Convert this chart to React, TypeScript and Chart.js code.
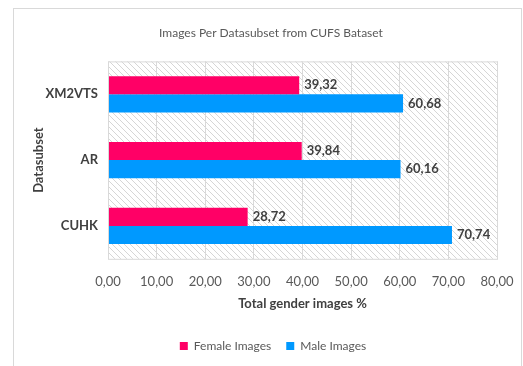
import React, { useEffect, useRef } from "react";
import { Chart, registerables } from "chart.js";

Chart.register(...registerables);

const categories = ["XM2VTS", "AR", "CUHK"];
const femaleValues = [39.32, 39.84, 28.72];
const maleValues = [60.68, 60.16, 70.74];
const xTickValues = [0, 10, 20, 30, 40, 50, 60, 70, 80];

const FONT = "Lato, 'Open Sans', sans-serif";
const fmt = (v: number) => v.toFixed(2).replace(".", ",");

function makeHatch(): CanvasPattern | string {
  const c = document.createElement("canvas");
  c.width = 6;
  c.height = 6;
  const g = c.getContext("2d");
  if (!g) return "#fff";
  g.fillStyle = "#ffffff";
  g.fillRect(0, 0, 6, 6);
  g.strokeStyle = "#d6d6d6";
  g.lineWidth = 1;
  g.beginPath();
  g.moveTo(-1, -1);
  g.lineTo(7, 7);
  g.moveTo(-4, 2);
  g.lineTo(4, 10);
  g.moveTo(2, -4);
  g.lineTo(10, 4);
  g.stroke();
  const p = g.createPattern(c, "repeat");
  return p || "#fff";
}

const framePlugin = {
  id: "frame",
  afterLayout(chart: any) {
    if (chart.titleBlock) {
      chart.titleBlock.left += 16;
      chart.titleBlock.right += 16;
    }
    if (chart.legend) {
      chart.legend.left += 18;
      chart.legend.right += 18;
    }
  },
  beforeDraw(chart: any) {
    const { ctx, chartArea } = chart;
    ctx.save();
    ctx.fillStyle = "#ffffff";
    ctx.fillRect(0, 0, chart.width, chart.height);
    ctx.strokeStyle = "#d9d9d9";
    ctx.lineWidth = 1;
    ctx.strokeRect(13.5, 8.5, chart.width - 15, chart.height + 10);
    ctx.fillStyle = makeHatch();
    ctx.fillRect(chartArea.left, chartArea.top, chartArea.right - chartArea.left, chartArea.bottom - chartArea.top);
    ctx.restore();
  },
  afterDatasetsDraw(chart: any) {
    const { ctx, chartArea } = chart;
    ctx.save();
    ctx.strokeStyle = "#d9d9d9";
    ctx.lineWidth = 1;
    ctx.strokeRect(chartArea.left + 0.5, chartArea.top + 0.5, chartArea.right - chartArea.left, chartArea.bottom - chartArea.top);
    ctx.font = `bold 13px ${FONT}`;
    ctx.fillStyle = "#404040";
    ctx.textBaseline = "middle";
    ctx.textAlign = "left";
    chart.data.datasets.forEach((ds: any, i: number) => {
      const meta = chart.getDatasetMeta(i);
      meta.data.forEach((bar: any, j: number) => {
        ctx.fillText(fmt(ds.data[j]), bar.x + 5, bar.y);
      });
    });
    ctx.restore();
  },
};

export default function App() {
  const ref = useRef<HTMLCanvasElement | null>(null);
  useEffect(() => {
    document.body.style.margin = "0";
    if (!ref.current) return;
    const chart = new Chart(ref.current, {
      type: "bar",
      data: {
        labels: categories,
        datasets: [
          { label: "Female Images", data: femaleValues, backgroundColor: "#FF0066", borderWidth: 0 },
          { label: "Male Images", data: maleValues, backgroundColor: "#0099FF", borderWidth: 0 },
        ],
      },
      options: {
        indexAxis: "y",
        responsive: false,
        animation: false,
        layout: { padding: { left: 13, right: 26, top: 0, bottom: 4 } },
        categoryPercentage: 0.55,
        barPercentage: 1,
        scales: {
          x: {
            min: 0,
            max: 80,
            afterBuildTicks: (axis: any) => {
              axis.ticks = xTickValues.map((v) => ({ value: v }));
            },
            afterFit: (axis: any) => {
              axis.paddingLeft = 0;
              axis.paddingRight = 0;
            },
            grid: { color: "#d9d9d9", drawTicks: false },
            border: { display: false },
            ticks: {
              padding: 15,
              maxRotation: 0,
              autoSkip: false,
              color: "#595959",
              font: { family: FONT, size: 13 },
              callback: (v: any) => fmt(Number(v)),
            },
            title: {
              display: true,
              text: "Total gender images %",
              color: "#404040",
              font: { family: FONT, size: 13, weight: "bold" },
              padding: { top: -8, bottom: 13 },
            },
          },
          y: {
            afterFit: (axis: any) => {
              axis.width = 95;
            },
            grid: { display: false, drawTicks: false },
            border: { display: false },
            ticks: {
              padding: 10,
              color: "#404040",
              font: { family: FONT, size: 13, weight: "bold" },
            },
            title: {
              display: true,
              text: "Datasubset",
              color: "#404040",
              font: { family: FONT, size: 13, weight: "bold" },
              padding: { top: 18, bottom: 0 },
            },
          },
        },
        plugins: {
          title: {
            display: true,
            text: "Images Per Datasubset from CUFS Bataset",
            color: "#595959",
            font: { family: FONT, size: 12, weight: "normal" },
            padding: { top: 26, bottom: 21 },
          },
          legend: {
            position: "bottom",
            labels: {
              color: "#595959",
              font: { family: FONT, size: 12 },
              boxWidth: 8,
              boxHeight: 8,
              padding: 15,
            },
          },
          tooltip: { enabled: false },
        },
      },
      plugins: [framePlugin],
    } as any);
    return () => chart.destroy();
  }, []);
  return (
    <div style={{ width: 523, height: 366 }}>
      <canvas ref={ref} width={523} height={366} style={{ display: "block" }} />
    </div>
  );
}
